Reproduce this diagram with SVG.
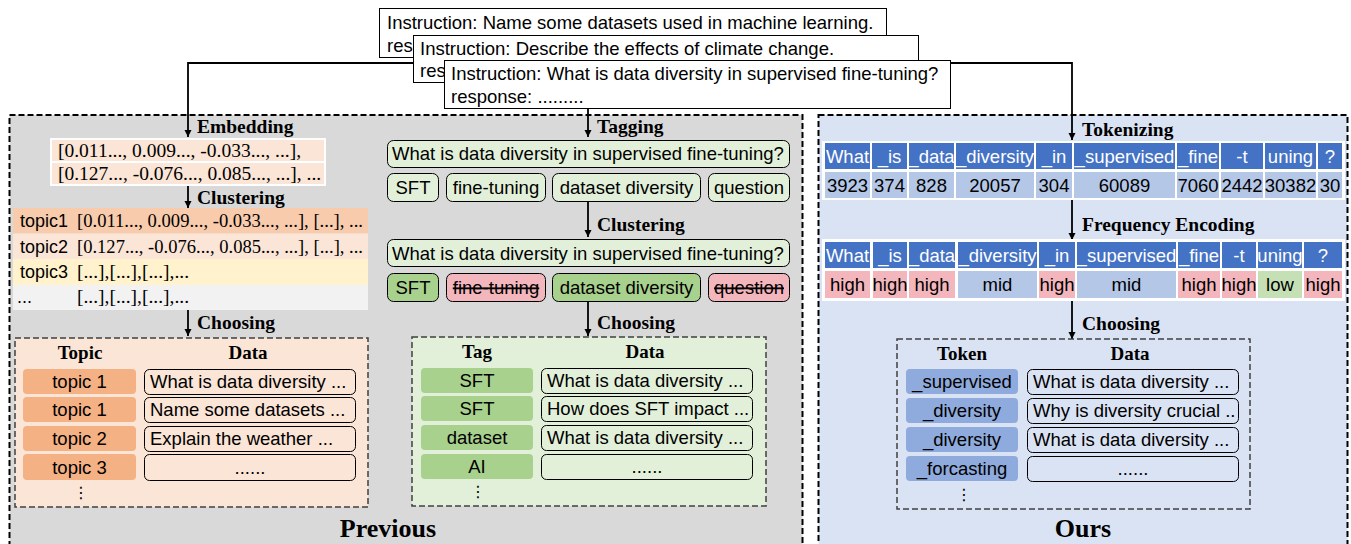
<svg xmlns="http://www.w3.org/2000/svg" width="1351" height="544" viewBox="0 0 1351 544">
  <defs>
    <marker id="ah" viewBox="0 0 10 10" refX="10" refY="5" markerUnits="userSpaceOnUse" markerWidth="7" markerHeight="9" orient="auto">
      <path d="M0,0 L10,5 L0,10 z" fill="#000"/>
    </marker>
    <style>
      .sans{font-family:"Liberation Sans",Arial,sans-serif;font-size:18.5px;fill:#000}
      .c{text-anchor:middle}
      .w{fill:#fff}
      .serif{font-family:"Liberation Serif","Times New Roman",serif;font-size:19.5px;fill:#000}
      .lbl{font-family:"Liberation Serif","Times New Roman",serif;font-weight:bold;font-size:19.5px;fill:#000}
      .hdr{font-family:"Liberation Serif","Times New Roman",serif;font-weight:bold;font-size:19px;fill:#000;text-anchor:middle}
      .title{font-family:"Liberation Serif","Times New Roman",serif;font-weight:bold;font-size:26px;fill:#000;text-anchor:middle}
      .dots{font-family:"DejaVu Sans",sans-serif;font-size:16px;fill:#000;text-anchor:middle}
      .panel{stroke:#000;stroke-width:2;stroke-dasharray:6 3}
      .sel{stroke:#404040;stroke-width:1.5;stroke-dasharray:6 3}
      .ibox{fill:#fff;stroke:#000;stroke-width:1}
      .box{stroke:#000;stroke-width:1}
      .conn{stroke:#000;stroke-width:1.8;fill:none}
      .strike{text-decoration:line-through}
      .blue{fill:#4472c4}
      .lb{fill:#b4c7e7}
      .hi{fill:#f4b6bd}
      .lo{fill:#c5e0b4}
    </style>
  </defs>

  <!-- panels -->
  <g id="panel-previous">
    <rect class="panel" x="9.5" y="115" width="793" height="440" fill="#d9d9d9"/>
    <text class="title" x="388" y="537">Previous</text>
  </g>
  <g id="panel-ours">
    <rect class="panel" x="818.5" y="115" width="529" height="440" fill="#dae3f3"/>
    <text class="title" x="1083" y="537">Ours</text>
  </g>

  <!-- connectors -->
  <g id="connectors">
    <polyline class="conn" points="414,63 188,63 188,137" marker-end="url(#ah)"/>
    <polyline class="conn" points="918,63 1072,63 1072,140" marker-end="url(#ah)"/>
    <line class="conn" x1="588" y1="108" x2="588" y2="137" marker-end="url(#ah)"/>
    <line class="conn" x1="188" y1="186" x2="188" y2="208" marker-end="url(#ah)"/>
    <line class="conn" x1="188" y1="310" x2="188" y2="336" marker-end="url(#ah)"/>
    <line class="conn" x1="588" y1="201" x2="588" y2="237" marker-end="url(#ah)"/>
    <line class="conn" x1="588" y1="302" x2="588" y2="336" marker-end="url(#ah)"/>
    <line class="conn" x1="1072" y1="200" x2="1072" y2="240" marker-end="url(#ah)"/>
    <line class="conn" x1="1072" y1="301" x2="1072" y2="339" marker-end="url(#ah)"/>
    <text class="lbl" x="197" y="133">Embedding</text>
    <text class="lbl" x="197" y="204">Clustering</text>
    <text class="lbl" x="197" y="329">Choosing</text>
    <text class="lbl" x="597" y="133">Tagging</text>
    <text class="lbl" x="597" y="231">Clustering</text>
    <text class="lbl" x="597" y="329">Choosing</text>
    <text class="lbl" x="1082" y="136">Tokenizing</text>
    <text class="lbl" x="1082" y="231">Frequency Encoding</text>
    <text class="lbl" x="1082" y="330">Choosing</text>
  </g>

  <!-- instruction samples -->
  <g id="sample-1">
    <rect class="ibox" x="379.5" y="8.5" width="507" height="49"/>
    <text class="sans" x="387" y="29">Instruction: Name some datasets used in machine learning.</text>
    <text class="sans" x="387" y="52">res</text>
  </g>
  <g id="sample-2">
    <rect class="ibox" x="413.5" y="35.5" width="505" height="47"/>
    <text class="sans" x="420" y="55">Instruction: Describe the effects of climate change.</text>
    <text class="sans" x="420" y="77">res</text>
  </g>
  <g id="sample-3">
    <rect class="ibox" x="444.5" y="60.5" width="506" height="48"/>
    <text class="sans" x="451" y="80">Instruction: What is data diversity in supervised fine-tuning?</text>
    <text class="sans" x="451" y="103">response: .........</text>
  </g>

  <!-- embedding vectors -->
  <g id="embedding">
    <rect x="50" y="138" width="276" height="48" fill="#fff"/>
    <rect x="52" y="140" width="272" height="21" fill="#fbe5d6"/>
    <rect x="52" y="163" width="272" height="21" fill="#fbe5d6"/>
    <text class="serif" x="58" y="157">[0.011..., 0.009..., -0.033..., ...],</text>
    <text class="serif" x="58" y="180">[0.127..., -0.076..., 0.085..., ...], ...</text>
  </g>

  <!-- topic clusters -->
  <g id="topic-clusters">
    <rect x="13" y="208" width="355" height="25.5" fill="#f8cbad"/>
    <rect x="13" y="233.5" width="355" height="25.5" fill="#fbe5d6"/>
    <rect x="13" y="259" width="355" height="26" fill="#fff2cc"/>
    <rect x="13" y="285" width="355" height="25" fill="#f2f2f2"/>
    <text class="sans" x="20" y="227" style="font-size:18px">topic1</text>
    <text class="serif" x="77" y="227" textLength="286" lengthAdjust="spacingAndGlyphs">[0.011..., 0.009..., -0.033..., ...], [...], ...</text>
    <text class="sans" x="20" y="252.5" style="font-size:18px">topic2</text>
    <text class="serif" x="77" y="252.5" textLength="286" lengthAdjust="spacingAndGlyphs">[0.127..., -0.076..., 0.085..., ...], [...], ...</text>
    <text class="sans" x="20" y="278" style="font-size:18px">topic3</text>
    <text class="serif" x="77" y="278">[...],[...],[...],...</text>
    <text class="sans" x="17" y="303" style="font-size:18px">...</text>
    <text class="serif" x="77" y="303">[...],[...],[...],...</text>
  </g>

  <!-- topic selection -->
  <g id="topic-choice">
    <rect class="sel" x="15" y="338" width="353" height="169" fill="#fbe5d6"/>
    <text class="hdr" x="80" y="359">Topic</text>
    <text class="hdr" x="248" y="359">Data</text>
    <rect x="23" y="369" width="113" height="25" rx="4" fill="#f4b183"/>
    <rect x="23" y="397" width="113" height="25" rx="4" fill="#f4b183"/>
    <rect x="23" y="426" width="113" height="25" rx="4" fill="#f4b183"/>
    <rect x="23" y="454" width="113" height="26" rx="4" fill="#f4b183"/>
    <text class="sans c" x="79.5" y="388">topic 1</text>
    <text class="sans c" x="79.5" y="416">topic 1</text>
    <text class="sans c" x="79.5" y="445">topic 2</text>
    <text class="sans c" x="79.5" y="473.5">topic 3</text>
    <rect class="box" x="144.5" y="369.5" width="211" height="25" rx="5" fill="#fbe5d6"/>
    <rect class="box" x="144.5" y="397.5" width="211" height="25" rx="5" fill="#fbe5d6"/>
    <rect class="box" x="144.5" y="426.5" width="211" height="25" rx="5" fill="#fbe5d6"/>
    <rect class="box" x="144.5" y="454.5" width="211" height="26" rx="5" fill="#fbe5d6"/>
    <text class="sans" x="150" y="388">What is data diversity ...</text>
    <text class="sans" x="150" y="416">Name some datasets ...</text>
    <text class="sans" x="150" y="445">Explain the weather ...</text>
    <text class="sans c" x="250" y="473.5">......</text>
    <text class="dots" x="81" y="498">⋮</text>
  </g>

  <!-- tagging -->
  <g id="tagging">
    <rect class="box" x="387.5" y="140.5" width="402" height="27" rx="6" fill="#e2f0d9"/>
    <text class="sans" x="392" y="160">What is data diversity in supervised fine-tuning?</text>
    <rect class="box" x="387.5" y="173.5" width="51" height="28" rx="6" fill="#e2f0d9"/>
    <rect class="box" x="446.5" y="173.5" width="99" height="28" rx="6" fill="#e2f0d9"/>
    <rect class="box" x="552.5" y="173.5" width="148" height="28" rx="6" fill="#e2f0d9"/>
    <rect class="box" x="708.5" y="173.5" width="81" height="28" rx="6" fill="#e2f0d9"/>
    <text class="sans c" x="413" y="194">SFT</text>
    <text class="sans c" x="496" y="194">fine-tuning</text>
    <text class="sans c" x="626.5" y="194">dataset diversity</text>
    <text class="sans c" x="749" y="194">question</text>
  </g>

  <!-- tag clustering -->
  <g id="tag-clusters">
    <rect class="box" x="387.5" y="239.5" width="402" height="27" rx="6" fill="#e2f0d9"/>
    <text class="sans" x="392" y="259.5">What is data diversity in supervised fine-tuning?</text>
    <rect class="box" x="387.5" y="273.5" width="51" height="28" rx="6" fill="#a9d18e"/>
    <rect class="box" x="446.5" y="273.5" width="99" height="28" rx="6" fill="#f4b6bd"/>
    <rect class="box" x="552.5" y="273.5" width="148" height="28" rx="6" fill="#a9d18e"/>
    <rect class="box" x="708.5" y="273.5" width="81" height="28" rx="6" fill="#f4b6bd"/>
    <text class="sans c" x="413" y="294">SFT</text>
    <text class="sans c strike" x="496" y="294">fine-tuning</text>
    <text class="sans c" x="626.5" y="294">dataset diversity</text>
    <text class="sans c strike" x="749" y="294">question</text>
  </g>

  <!-- tag selection -->
  <g id="tag-choice">
    <rect class="sel" x="412" y="337" width="354" height="169" fill="#e2f0d9"/>
    <text class="hdr" x="477" y="358">Tag</text>
    <text class="hdr" x="645" y="358">Data</text>
    <rect x="421" y="368" width="112" height="25" rx="4" fill="#a9d18e"/>
    <rect x="421" y="396" width="112" height="25" rx="4" fill="#a9d18e"/>
    <rect x="421" y="425" width="112" height="25" rx="4" fill="#a9d18e"/>
    <rect x="421" y="454" width="112" height="25" rx="4" fill="#a9d18e"/>
    <text class="sans c" x="477" y="387">SFT</text>
    <text class="sans c" x="477" y="415">SFT</text>
    <text class="sans c" x="477" y="444">dataset</text>
    <text class="sans c" x="477" y="473">AI</text>
    <rect class="box" x="541.5" y="368.5" width="211" height="25" rx="5" fill="#e2f0d9"/>
    <rect class="box" x="541.5" y="396.5" width="211" height="25" rx="5" fill="#e2f0d9"/>
    <rect class="box" x="541.5" y="425.5" width="211" height="25" rx="5" fill="#e2f0d9"/>
    <rect class="box" x="541.5" y="454.5" width="211" height="25" rx="5" fill="#e2f0d9"/>
    <text class="sans" x="547" y="387">What is data diversity ...</text>
    <text class="sans" x="547" y="415">How does SFT impact ...</text>
    <text class="sans" x="547" y="444">What is data diversity ...</text>
    <text class="sans c" x="647" y="473">......</text>
    <text class="dots" x="478" y="497">⋮</text>
  </g>

  <!-- tokenization -->
  <g id="tokens">
    <rect x="822" y="141" width="523" height="59" fill="#fff"/>
    <rect class="blue" x="825" y="143" width="45" height="26"/>
    <rect class="blue" x="872" y="143" width="35" height="26"/>
    <rect class="blue" x="909" y="143" width="45" height="26"/>
    <rect class="blue" x="956" y="143" width="78" height="26"/>
    <rect class="blue" x="1036" y="143" width="36" height="26"/>
    <rect class="blue" x="1074" y="143" width="101" height="26"/>
    <rect class="blue" x="1177" y="143" width="42" height="26"/>
    <rect class="blue" x="1221" y="143" width="42" height="26"/>
    <rect class="blue" x="1265" y="143" width="51" height="26"/>
    <rect class="blue" x="1318" y="143" width="24" height="26"/>
    <text class="sans c w" x="847.5" y="162.5">What</text>
    <text class="sans c w" x="889.5" y="162.5">_is</text>
    <text class="sans c w" x="931.5" y="162.5">_data</text>
    <text class="sans c w" x="995" y="162.5">_diversity</text>
    <text class="sans c w" x="1054" y="162.5">_in</text>
    <text class="sans c w" x="1124.5" y="162.5">_supervised</text>
    <text class="sans c w" x="1198" y="162.5">_fine</text>
    <text class="sans c w" x="1242" y="162.5">-t</text>
    <text class="sans c w" x="1290.5" y="162.5">uning</text>
    <text class="sans c w" x="1330" y="162.5">?</text>
    <rect class="lb" x="825" y="172" width="45" height="26"/>
    <rect class="lb" x="872" y="172" width="35" height="26"/>
    <rect class="lb" x="909" y="172" width="45" height="26"/>
    <rect class="lb" x="956" y="172" width="78" height="26"/>
    <rect class="lb" x="1036" y="172" width="36" height="26"/>
    <rect class="lb" x="1074" y="172" width="101" height="26"/>
    <rect class="lb" x="1177" y="172" width="42" height="26"/>
    <rect class="lb" x="1221" y="172" width="42" height="26"/>
    <rect class="lb" x="1265" y="172" width="51" height="26"/>
    <rect class="lb" x="1318" y="172" width="24" height="26"/>
    <text class="sans c" x="847.5" y="191.5">3923</text>
    <text class="sans c" x="889.5" y="191.5">374</text>
    <text class="sans c" x="931.5" y="191.5">828</text>
    <text class="sans c" x="995" y="191.5">20057</text>
    <text class="sans c" x="1054" y="191.5">304</text>
    <text class="sans c" x="1124.5" y="191.5">60089</text>
    <text class="sans c" x="1198" y="191.5">7060</text>
    <text class="sans c" x="1242" y="191.5">2442</text>
    <text class="sans c" x="1290.5" y="191.5">30382</text>
    <text class="sans c" x="1330" y="191.5">30</text>
  </g>

  <!-- frequency encoding -->
  <g id="frequency">
    <rect x="822" y="239" width="523" height="62" fill="#fff"/>
    <rect class="blue" x="825" y="242" width="45" height="26"/>
    <rect class="blue" x="873" y="242" width="34" height="26"/>
    <rect class="blue" x="909" y="242" width="46" height="26"/>
    <rect class="blue" x="958" y="242" width="79" height="26"/>
    <rect class="blue" x="1039" y="242" width="36" height="26"/>
    <rect class="blue" x="1077" y="242" width="99" height="26"/>
    <rect class="blue" x="1178" y="242" width="42" height="26"/>
    <rect class="blue" x="1222" y="242" width="34" height="26"/>
    <rect class="blue" x="1258" y="242" width="44" height="26"/>
    <rect class="blue" x="1304" y="242" width="38" height="26"/>
    <text class="sans c w" x="847.5" y="261.5">What</text>
    <text class="sans c w" x="890" y="261.5">_is</text>
    <text class="sans c w" x="932" y="261.5">_data</text>
    <text class="sans c w" x="997.5" y="261.5">_diversity</text>
    <text class="sans c w" x="1057" y="261.5">_in</text>
    <text class="sans c w" x="1126.5" y="261.5">_supervised</text>
    <text class="sans c w" x="1199" y="261.5">_fine</text>
    <text class="sans c w" x="1239" y="261.5">-t</text>
    <text class="sans c w" x="1280" y="261.5">uning</text>
    <text class="sans c w" x="1323" y="261.5">?</text>
    <rect class="hi" x="825" y="271" width="45" height="27"/>
    <rect class="hi" x="873" y="271" width="34" height="27"/>
    <rect class="hi" x="909" y="271" width="46" height="27"/>
    <rect class="lb" x="958" y="271" width="79" height="27"/>
    <rect class="hi" x="1039" y="271" width="36" height="27"/>
    <rect class="lb" x="1077" y="271" width="99" height="27"/>
    <rect class="hi" x="1178" y="271" width="42" height="27"/>
    <rect class="hi" x="1222" y="271" width="34" height="27"/>
    <rect class="lo" x="1258" y="271" width="44" height="27"/>
    <rect class="hi" x="1304" y="271" width="38" height="27"/>
    <text class="sans c" x="847.5" y="291">high</text>
    <text class="sans c" x="890" y="291">high</text>
    <text class="sans c" x="932" y="291">high</text>
    <text class="sans c" x="997.5" y="291">mid</text>
    <text class="sans c" x="1057" y="291">high</text>
    <text class="sans c" x="1126.5" y="291">mid</text>
    <text class="sans c" x="1199" y="291">high</text>
    <text class="sans c" x="1239" y="291">high</text>
    <text class="sans c" x="1280" y="291">low</text>
    <text class="sans c" x="1323" y="291">high</text>
  </g>

  <!-- token selection -->
  <g id="token-choice">
    <rect class="sel" x="897" y="339" width="353" height="170" fill="#dae3f3"/>
    <text class="hdr" x="962" y="360">Token</text>
    <text class="hdr" x="1130" y="360">Data</text>
    <rect x="906" y="369" width="112" height="25" rx="4" fill="#8faadc"/>
    <rect x="906" y="398" width="112" height="25" rx="4" fill="#8faadc"/>
    <rect x="906" y="427" width="112" height="25" rx="4" fill="#8faadc"/>
    <rect x="906" y="456" width="112" height="25" rx="4" fill="#8faadc"/>
    <text class="sans c" x="962" y="388">_supervised</text>
    <text class="sans c" x="962" y="417">_diversity</text>
    <text class="sans c" x="962" y="446">_diversity</text>
    <text class="sans c" x="962" y="475">_forcasting</text>
    <rect class="box" x="1027.5" y="369.5" width="211" height="25" rx="5" fill="#dae3f3"/>
    <rect class="box" x="1027.5" y="398.5" width="211" height="25" rx="5" fill="#dae3f3"/>
    <rect class="box" x="1027.5" y="427.5" width="211" height="25" rx="5" fill="#dae3f3"/>
    <rect class="box" x="1027.5" y="456.5" width="211" height="25" rx="5" fill="#dae3f3"/>
    <text class="sans" x="1033" y="388">What is data diversity ...</text>
    <text class="sans" x="1033" y="417">Why is diversity crucial ..</text>
    <text class="sans" x="1033" y="446">What is data diversity ...</text>
    <text class="sans c" x="1133" y="475">......</text>
    <text class="dots" x="964" y="500">⋮</text>
  </g>
</svg>
